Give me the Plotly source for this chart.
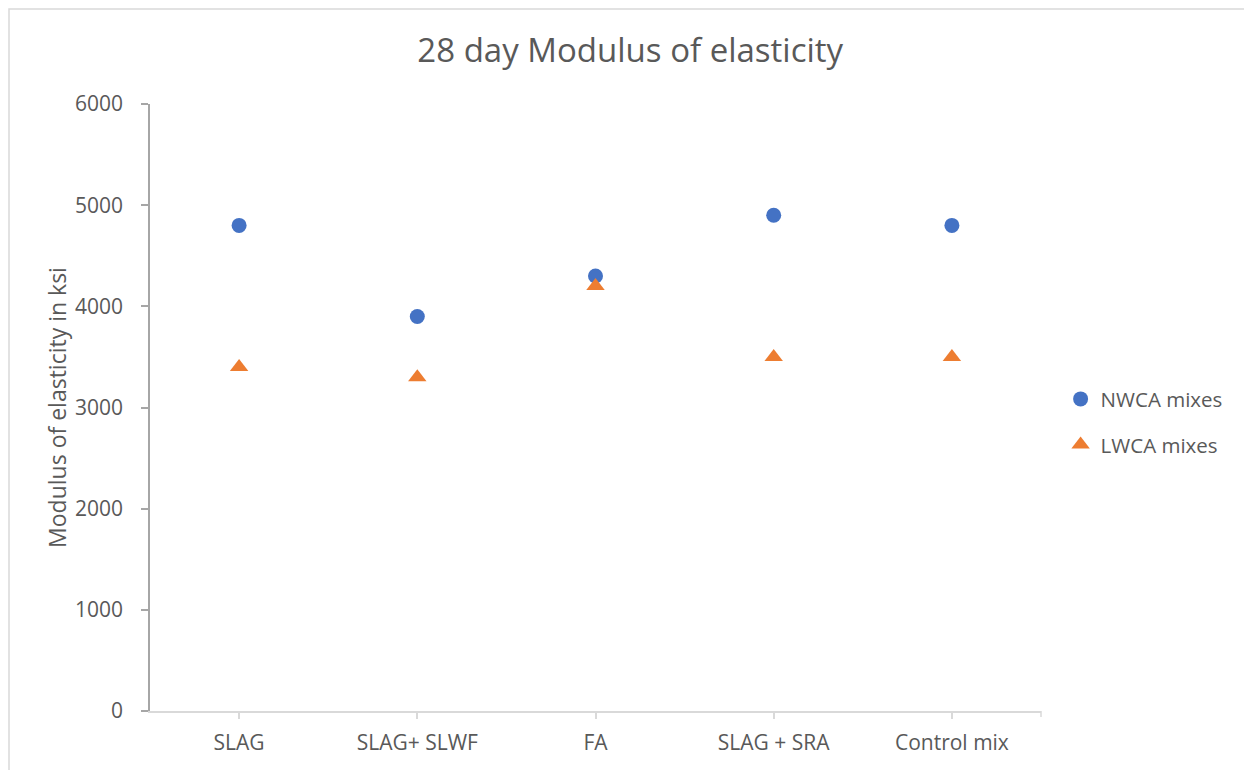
import plotly.graph_objects as go

# data
mixes = ["SLAG", "SLAG+ SLWF", "FA", "SLAG + SRA", "Control mix"]
nwca = [4800, 3900, 4300, 4900, 4800]
lwca = [3400, 3300, 4200, 3500, 3500]
yticks = [0, 1000, 2000, 3000, 4000, 5000, 6000]

FONT = "Open Sans"
TXT = "#595959"

# plot area in figure px (page has an 8px body margin)
L, T, R, B = 142, 96, 219, 67
PW, PH = 1252 - L - R, 770 - T - B

fig = go.Figure()
fig.add_trace(go.Scatter(x=mixes, y=nwca, mode="markers", name="NWCA mixes",
                         legendgroup="a",
                         marker=dict(symbol="circle", size=15, color="#4472C4")))
fig.add_trace(go.Scatter(x=mixes, y=lwca, mode="markers", name="LWCA mixes",
                         legendgroup="b",
                         marker=dict(symbol="triangle-up", size=16, color="#ED7D31")))

fig.update_layout(
    width=1252, height=770,
    margin=dict(l=L, r=R, t=T, b=B),
    paper_bgcolor="white", plot_bgcolor="white",
    font=dict(family=FONT, color=TXT, size=21),
    title=dict(text="28 day Modulus of elasticity", x=0.497, xanchor="center",
               y=0.945, yanchor="middle",
               font=dict(size=33, color=TXT, family=FONT)),
    showlegend=True,
    legend=dict(x=1.022, y=0.476, xanchor="left", yanchor="middle",
                font=dict(size=20.5, color=TXT), traceorder="grouped",
                tracegroupgap=16, itemwidth=30),
)

fig.update_xaxes(type="category", range=[-0.5, 4.5],
                 showline=True, linecolor="#d9d9d9", linewidth=1.5,
                 ticks="outside", tickcolor="#d9d9d9", ticklen=6, tickwidth=1.5,
                 showgrid=False, zeroline=False,
                 tickfont=dict(size=21, color=TXT), ticklabelstandoff=6)
fig.update_yaxes(range=[0, 6000], tickvals=yticks,
                 showline=True, linecolor="#a6a6a6", linewidth=1.5,
                 ticks="outside", tickcolor="#a6a6a6", ticklen=7, tickwidth=1.5,
                 showgrid=False, zeroline=False,
                 tickfont=dict(size=21, color=TXT), ticklabelstandoff=14,
                 title=dict(text="Modulus of elasticity in ksi",
                            font=dict(size=23, color=TXT), standoff=2))

# end tick on the right of the x axis
fig.add_shape(type="line", xref="paper", yref="paper", x0=1, x1=1, y0=0, y1=-6 / PH,
              line=dict(color="#d9d9d9", width=1.5))
# chart area border (cropped at right/bottom)
fig.add_shape(type="rect", xref="paper", yref="paper",
              x0=(1 - L) / PW, x1=(1270 - L) / PW,
              y0=-(B + 20) / PH, y1=(PH + T - 1) / PH,
              line=dict(color="#d9d9d9", width=1.5), layer="below")

fig.write_html("out.html")
